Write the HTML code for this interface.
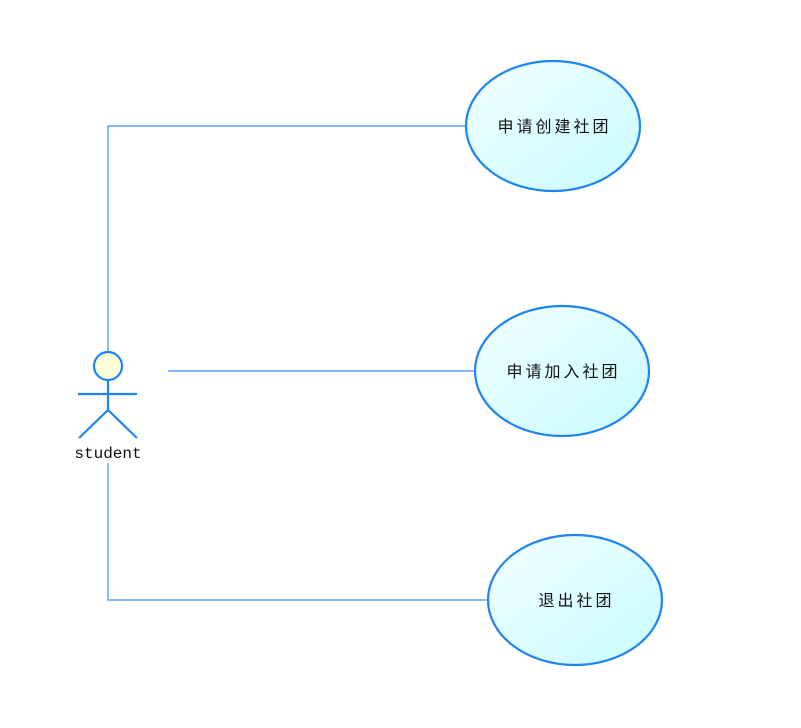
<!DOCTYPE html>
<html><head><meta charset="utf-8"><style>body{margin:0;background:#fff}</style></head><body>
<svg width="801" height="723" xmlns="http://www.w3.org/2000/svg">
<defs><linearGradient id="g" x1="0" y1="0" x2="1" y2="1"><stop offset="0" stop-color="#f2ffff"/><stop offset="1" stop-color="#c8fbfd"/></linearGradient></defs>
<g stroke="#3a8ef0" stroke-width="1.2" fill="none">
<polyline points="108,352 108,126 466,126"/>
<line x1="168" y1="371" x2="475" y2="371"/>
<polyline points="108,463 108,600 488,600"/>
</g>
<g stroke="#1f84f0" stroke-width="2.2" fill="url(#g)">
<ellipse cx="553" cy="126" rx="87" ry="65"/>
<ellipse cx="562" cy="371" rx="87" ry="65"/>
<ellipse cx="575" cy="600" rx="87" ry="65"/>
</g>
<g stroke="#1f84f0" stroke-width="2.2" fill="none">
<circle cx="108" cy="366" r="14" fill="#fdfdd6"/>
<line x1="78" y1="394" x2="137" y2="394"/>
<line x1="108" y1="380" x2="108" y2="410"/>
<polyline points="79,438 108,410 137,438"/>
</g>
<g font-family="'Liberation Sans','Noto Sans CJK SC',sans-serif" font-size="16" fill="#111" text-anchor="middle" letter-spacing="3">
<text x="554.5" y="132">申请创建社团</text>
<text x="563.5" y="377">申请加入社团</text>
<text x="576.5" y="606">退出社团</text>
</g>
<text x="108" y="458" font-family="'Liberation Mono',monospace" font-size="16" fill="#111" text-anchor="middle">student</text>
</svg>
</body></html>
